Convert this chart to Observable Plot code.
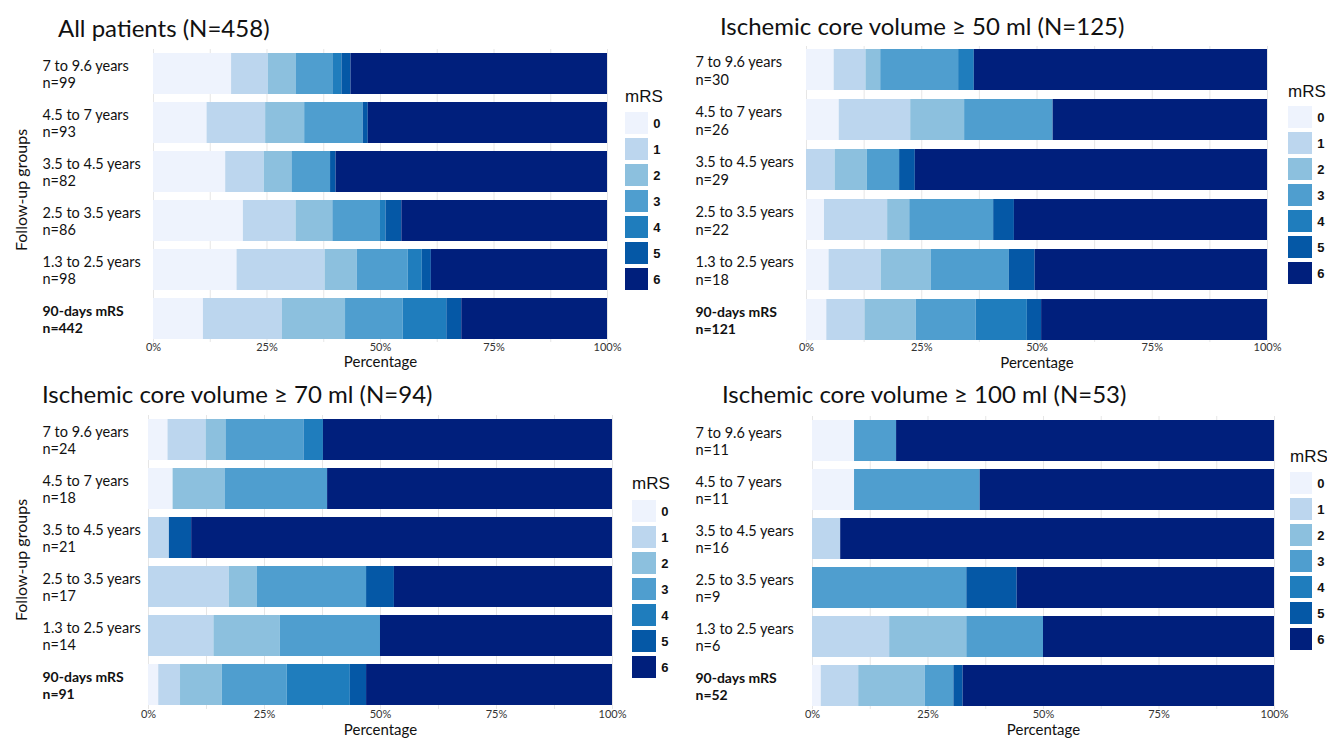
<!DOCTYPE html>
<html>
<head>
<meta charset="utf-8">
<script src="https://cdn.jsdelivr.net/npm/d3@7"></script>
<script src="https://cdn.jsdelivr.net/npm/@observablehq/plot@0.6"></script>
<style>
  body { margin: 0; background: #fff; }
  #root { position: relative; width: 1327px; height: 743px; overflow: hidden; font-family: Lato, "Open Sans", sans-serif; background: #fff; }
  .abs { position: absolute; white-space: nowrap; }
  .title { font-size: 24px; color: #111; font-family: Lato, sans-serif; }
  .leg { font-size: 17px; color: #111; font-family: "Liberation Sans", Arial, sans-serif; }
  .ylab { font-size: 16px; color: #111; font-family: Lato, sans-serif; }
</style>
</head>
<body>
<div id="root"></div>
<script>
// ---------- data ----------
const levels = ["0", "1", "2", "3", "4", "5", "6"];
const colors = ["#eef3fd", "#bcd6ee", "#8cc0de", "#4f9ecf", "#1f7dbd", "#0558a6", "#001f7c"];
const groups = ["7 to 9.6 years", "4.5 to 7 years", "3.5 to 4.5 years", "2.5 to 3.5 years", "1.3 to 2.5 years", "90-days mRS"];
const titles = [
  "All patients (N=458)",
  "Ischemic core volume \u2265 50 ml (N=125)",
  "Ischemic core volume \u2265 70 ml (N=94)",
  "Ischemic core volume \u2265 100 ml (N=53)"
];
const nAll = [99, 93, 82, 86, 98, 442];
const n50 = [30, 26, 29, 22, 18, 121];
const n70 = [24, 18, 21, 17, 14, 91];
const n100 = [11, 11, 16, 9, 6, 52];
// percentages per mRS 0..6
const pctAll = [
  [17.2, 8.1, 6.1, 8.1, 2.0, 2.0, 56.5],
  [11.8, 12.9, 8.6, 12.9, 0, 1.1, 52.7],
  [15.9, 8.5, 6.1, 8.5, 0, 1.2, 59.8],
  [19.8, 11.6, 8.1, 10.5, 1.2, 3.5, 45.3],
  [18.4, 19.4, 7.1, 11.2, 3.1, 2.0, 38.8],
  [11.0, 17.4, 13.9, 12.7, 9.6, 3.3, 32.1]
];
const pct50 = [
  [6.0, 6.9, 3.2, 16.9, 3.4, 0, 63.6],
  [7.1, 15.5, 11.7, 19.2, 0, 0, 46.5],
  [0, 6.2, 7.0, 7.0, 0, 3.4, 76.4],
  [3.9, 13.7, 4.8, 18.2, 0, 4.5, 54.9],
  [4.9, 11.3, 10.9, 16.9, 0, 5.6, 50.4],
  [4.4, 8.3, 11.1, 13.0, 11.1, 3.1, 49.0]
];
const pct70 = [
  [4.2, 8.2, 4.3, 16.8, 4.2, 0, 62.3],
  [5.3, 0, 11.2, 22.1, 0, 0, 61.4],
  [0, 4.5, 0, 0, 0, 4.8, 90.7],
  [0, 17.4, 6.0, 23.6, 0, 6.0, 47.0],
  [0, 14.1, 14.3, 21.6, 0, 0, 50.0],
  [2.2, 4.7, 9.0, 14.0, 13.6, 3.5, 53.0]
];
const pct100 = [
  [9.1, 0, 0, 9.1, 0, 0, 81.8],
  [9.1, 0, 0, 27.2, 0, 0, 63.7],
  [0, 6.1, 0, 0, 0, 0, 93.9],
  [0, 0, 0, 33.4, 0, 10.9, 55.7],
  [0, 16.7, 16.7, 16.6, 0, 0, 50.0],
  [1.9, 8.1, 14.4, 6.2, 0, 2.0, 67.4]
];
const xTicks = [0, 25, 50, 75, 100];

// ---------- layout ----------
const root = document.getElementById("root");
function addText(txt, x, y, cls, extra) {
  const d = document.createElement("div");
  d.className = "abs " + cls;
  d.textContent = txt;
  d.style.left = x + "px";
  d.style.top = y + "px";
  d.style.transform = "translateY(-50%)";
  if (extra) Object.assign(d.style, extra);
  root.appendChild(d);
  return d;
}
function place(svg, left, top) {
  svg.style.position = "absolute";
  svg.style.left = left + "px";
  svg.style.top = top + "px";
  root.appendChild(svg);
}

function panel(cfg) {
  const { pct, ns, x0, x1, yc0, yc5, labelX, svgLeft, svgTop, width, pctY } = cfg;
  const s = (yc5 - yc0) / 5, bw = 41, pi = 1 - bw / s, po = 0.05;
  const top = yc0 - bw / 2 - po * s;
  const R = s * (6 - pi + 2 * po);
  const marginTop = top - svgTop;
  const marginBottom = 40;
  const height = marginTop + R + marginBottom;
  const rows = [];
  groups.forEach((g, i) => levels.forEach((l, j) => rows.push({ group: g, mrs: l, pct: pct[i][j] })));
  const labs = groups.map((g, i) => ({ group: g, label: g + "\nn=" + ns[i], bold: i === 5 }));
  const svg = Plot.plot({
    width, height,
    marginLeft: x0 - svgLeft, marginRight: svgLeft + width - x1,
    marginTop, marginBottom,
    style: { background: "transparent", overflow: "visible", maxWidth: "none", fontFamily: "Lato, sans-serif" },
    x: { domain: [0, 100], axis: null },
    y: { domain: groups, axis: null, paddingInner: pi, paddingOuter: po },
    color: { domain: levels, range: colors },
    marks: [
      Plot.gridX(d3.range(0, 100.1, 12.5), { stroke: "#e6e6e6", strokeOpacity: 1 }),
      Plot.barX(rows, Plot.stackX({ x: "pct", y: "group", fill: "mrs" })),
      Plot.axisX({ ticks: xTicks, tickFormat: d => d + "%", tickSize: 0, tickPadding: 1, fontSize: 11, label: null, fill: "#333" }),
      Plot.text(["Percentage"], { frameAnchor: "bottom", dy: pctY - (top + R), fontSize: 15, fill: "#111" }),
      Plot.text(labs.filter(d => !d.bold), { y: "group", text: "label", frameAnchor: "left", textAnchor: "start", dx: labelX - x0, fontSize: 14.5, lineHeight: 1.22, fill: "#111" }),
      Plot.text(labs.filter(d => d.bold), { y: "group", text: "label", frameAnchor: "left", textAnchor: "start", dx: labelX - x0, fontSize: 14, lineHeight: 1.25, fontWeight: "bold", fill: "#111" })
    ]
  });
  place(svg, svgLeft, svgTop);
}

function legend(cfg) {
  const { x, top, w, titleY } = cfg;
  addText("mRS", x, titleY, "leg");
  const svg = Plot.plot({
    width: w + 30, height: 7 * 26,
    marginLeft: 0, marginTop: 0, marginBottom: 0, marginRight: 30,
    style: { background: "transparent", overflow: "visible", maxWidth: "none" },
    x: { axis: null },
    y: { domain: levels, axis: null, padding: 0 },
    color: { domain: levels, range: colors },
    marks: [
      Plot.cell(levels, { y: d => d, fill: d => d, insetTop: 2, insetBottom: 2 }),
      Plot.text(levels, { y: d => d, frameAnchor: "right", dx: 12, fontWeight: "bold", fontSize: 13, fontFamily: "Liberation Sans, Arial, sans-serif", fill: "#111" })
    ]
  });
  place(svg, x, top);
}

// titles
addText(titles[0], 58, 27, "title");
addText(titles[1], 720, 25, "title");
addText(titles[2], 42, 393, "title");
addText(titles[3], 722, 393, "title");
addText("Follow-up groups", 20, 190, "ylab", { transform: "translate(-50%,-50%) rotate(-90deg)" });
addText("Follow-up groups", 20, 560, "ylab", { transform: "translate(-50%,-50%) rotate(-90deg)" });

panel({ pct: pctAll, ns: nAll, x0: 153, x1: 607, yc0: 72, yc5: 319, labelX: 42, svgLeft: 0, svgTop: 40, width: 620, pctY: 367 });
panel({ pct: pct50, ns: n50, x0: 806, x1: 1267, yc0: 69, yc5: 319, labelX: 695, svgLeft: 660, svgTop: 40, width: 620, pctY: 367 });
panel({ pct: pct70, ns: n70, x0: 148, x1: 612, yc0: 438, yc5: 686, labelX: 42, svgLeft: 0, svgTop: 410, width: 625, pctY: 735 });
panel({ pct: pct100, ns: n100, x0: 812, x1: 1274, yc0: 439, yc5: 686, labelX: 695, svgLeft: 660, svgTop: 410, width: 625, pctY: 735 });

legend({ x: 625, top: 110, w: 23, titleY: 97 });
legend({ x: 1288, top: 104, w: 24, titleY: 92 });
legend({ x: 632, top: 498, w: 24, titleY: 484 });
legend({ x: 1290, top: 470, w: 22, titleY: 457 });
</script>
</body>
</html>
